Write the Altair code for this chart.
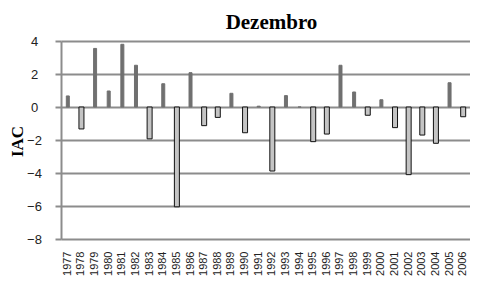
import altair as alt
import pandas as pd

anos = ["1977", "1978", "1979", "1980", "1981", "1982", "1983", "1984", "1985", "1986",
        "1987", "1988", "1989", "1990", "1991", "1992", "1993", "1994", "1995", "1996",
        "1997", "1998", "1999", "2000", "2001", "2002", "2003", "2004", "2005", "2006"]
iac = [0.67, -1.33, 3.55, 0.97, 3.80, 2.53, -1.93, 1.41, -6.05, 2.08,
       -1.13, -0.63, 0.83, -1.56, 0.05, -3.88, 0.69, 0.0, -2.10, -1.64,
       2.53, 0.91, -0.50, 0.44, -1.25, -4.10, -1.70, -2.20, 1.47, -0.59]
y_ticks = [-8, -6, -4, -2, 0, 2, 4]

df = pd.DataFrame({"ano": anos, "iac": iac})

chart = alt.Chart(df).mark_bar(strokeWidth=1).encode(
    x=alt.X("ano:N", sort=None,
            scale=alt.Scale(paddingInner=0, paddingOuter=0),
            axis=alt.Axis(title=None, labelAngle=-90, labelFontSize=11,
                          labelFont="Liberation Sans", labelColor="#222",
                          domain=False, ticks=False, grid=False, labelPadding=12)),
    y=alt.Y("iac:Q", scale=alt.Scale(domain=[-8, 4], nice=False),
            axis=alt.Axis(values=y_ticks, title="IAC", titleFont="Liberation Serif",
                          titleFontWeight="bold", titleFontSize=17, titleColor="#000",
                          titleX=-44, titleY=100, titleAlign="center", titleBaseline="middle",
                          grid=True, gridColor="#8c8c8c", gridWidth=2,
                          domainColor="#8c8c8c", domainWidth=2,
                          tickColor="#8c8c8c", tickWidth=2, tickSize=6,
                          labelFont="Liberation Sans", labelFontSize=13, labelColor="#222",
                          labelAlign="center", labelBaseline="middle", labelPadding=21)),
    color=alt.condition("datum.iac >= 0", alt.value("#707070"), alt.value("#c4c4c4")),
    stroke=alt.condition("datum.iac >= 0", alt.value("#707070"), alt.value("#111111")),
    size=alt.condition("datum.iac >= 0", alt.value(3), alt.value(5)),
).properties(
    width=409, height=198,
    title=alt.TitleParams("Dezembro", font="Liberation Serif", fontSize=21,
                          fontWeight="bold", anchor="middle", offset=2, dx=6, color="#000"),
    autosize=alt.AutoSizeParams(type="none"),
    padding={"left": 53, "top": 33, "right": 0, "bottom": 39},
).configure_view(stroke=None)

chart.save("out.html", embed_options={"renderer": "svg", "actions": False})
